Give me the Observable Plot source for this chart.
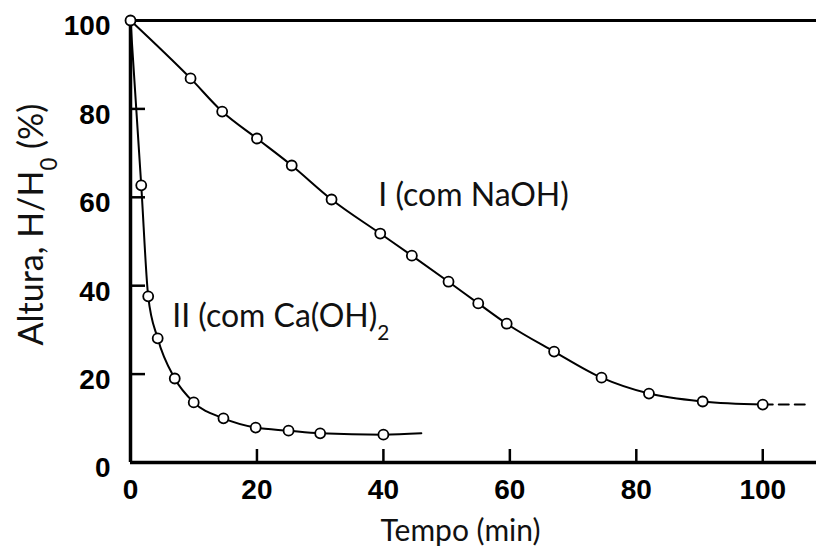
<!DOCTYPE html>
<html><head><meta charset="utf-8">
<script src="https://cdn.jsdelivr.net/npm/d3@7"></script>
<script src="https://cdn.jsdelivr.net/npm/@observablehq/plot@0.6"></script>
<style>body{margin:0;background:#fff}</style>
</head><body><div id="chart"></div>
<script>
// Series I (com NaOH)
const naohT = [0, 9.5, 14.5, 20, 25.5, 31.8, 39.5, 44.5, 50.3, 55, 59.5, 67, 74.5, 82, 90.5, 100];
const naohH = [100, 86.9, 79.4, 73.3, 67.2, 59.5, 51.8, 46.8, 40.9, 36.0, 31.4, 25.1, 19.2, 15.6, 13.8, 13.1];
const naohTailT = [100, 107];
const naohTailH = [13.1, 13.1];
// Series II (com Ca(OH)2)
const caT = [0, 1.7, 2.8, 4.3, 7, 10, 14.7, 19.8, 25, 30, 40];
const caH = [100, 62.7, 37.6, 28.1, 19.0, 13.6, 10.0, 7.9, 7.2, 6.6, 6.3];
const caLineEndT = [46];
const caLineEndH = [6.6];
// Axes
const xTicks = [0, 20, 40, 60, 80, 100];
const yTicks = [0, 20, 40, 60, 80, 100];
const xLabel = "Tempo (min)";
const yLabel = "Altura, H/H_0 (%)";
// Annotations
const labels = ["I (com NaOH)", "II (com Ca(OH)_2"];
const labelT = [39.2, 6.6];
const labelH = [60.4, 33];

const naoh = naohT.map((t, i) => ({t, h: naohH[i]}));
const naohTail = naohTailT.map((t, i) => ({t, h: naohTailH[i]}));
const ca = caT.map((t, i) => ({t, h: caH[i]}));
const caLine = ca.concat(caLineEndT.map((t, i) => ({t, h: caLineEndH[i]})));
const ann = labels.map((s, i) => ({s, t: labelT[i], h: labelH[i]}));

const W = 816, H = 546, ML = 130, MR = 0, MT = 20, MB = 84;
const frameW = W - ML - MR, frameH = H - MT - MB;
const tickFont = {fontSize: 28, fontWeight: "bold", fontFamily: "Liberation Sans, Arial, sans-serif"};

const svg = Plot.plot({
  width: W, height: H,
  marginLeft: ML, marginRight: MR, marginTop: MT, marginBottom: MB,
  x: {domain: [0, 108.5]},
  y: {domain: [0, 100]},
  style: {background: "white", color: "black", fontFamily: "Lato, sans-serif"},
  marks: [
    Plot.axisX(xTicks, {tickSize: 0, tickPadding: 17, label: null, ...tickFont}),
    Plot.axisY(yTicks, {tickSize: 0, tickPadding: 20, dy: 6, label: null, ...tickFont}),
    Plot.tickX(xTicks.filter(d => d > 0), {x: d => d, insetTop: frameH - 13, strokeWidth: 2.5}),
    Plot.tickY(yTicks.filter(d => d > 0 && d < 100), {y: d => d, insetRight: frameW - 15, strokeWidth: 2.5}),
    Plot.ruleX([0], {strokeWidth: 3.5}),
    Plot.ruleY([0], {strokeWidth: 3.5}),
    Plot.ruleY([100], {strokeWidth: 3}),
    Plot.line(naoh, {x: "t", y: "h", curve: "monotone-x", strokeWidth: 2}),
    Plot.line(naohTail, {x: "t", y: "h", strokeWidth: 2, strokeDasharray: "10,6"}),
    Plot.line(caLine, {x: "t", y: "h", curve: "monotone-x", strokeWidth: 2}),
    Plot.dot(naoh, {x: "t", y: "h", r: 5, fill: "white", stroke: "black", strokeWidth: 1.8}),
    Plot.dot(ca.slice(1), {x: "t", y: "h", r: 5, fill: "white", stroke: "black", strokeWidth: 1.8}),
    Plot.text(ann, {x: "t", y: "h", text: "s", textAnchor: "start", fontSize: 32, fill: "#111"}),
    Plot.text([xLabel], {frameAnchor: "bottom", textAnchor: "middle", lineAnchor: "bottom", dx: -13, dy: 78, fontSize: 30, fill: "#111"}),
    Plot.text([yLabel], {frameAnchor: "left", textAnchor: "middle", lineAnchor: "middle", dx: -98, dy: -17, rotate: -90, fontSize: 34, fill: "#111"})
  ]
});

// subscripts: "_x" -> subscript tspan
d3.select(svg).selectAll("text").each(function () {
  const t = this.textContent;
  if (!t.includes("_")) return;
  const parts = t.split(/_(\w)/);
  this.textContent = "";
  parts.forEach((p, i) => {
    if (!p) return;
    const ts = d3.select(this).append("tspan").text(p);
    if (i % 2 === 1) ts.attr("font-size", "0.65em").attr("baseline-shift", "sub");
  });
});

document.getElementById("chart").appendChild(svg);
</script>
</body></html>
